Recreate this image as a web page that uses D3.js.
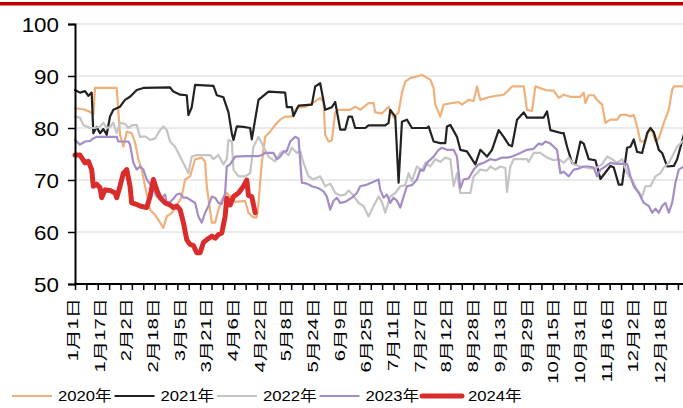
<!DOCTYPE html>
<html>
<head>
<meta charset="utf-8">
<script src="https://cdn.jsdelivr.net/npm/d3@7"></script>
<style>
  body { margin: 0; background: #fff; }
  svg { display: block; }
</style>
</head>
<body>
<svg id="chart" width="683" height="408"></svg>
<script>
// ---- data: day-of-year index (0 = Jan 1) and value ----
const labelDays = [0, 16, 32, 48, 64, 80, 96, 112, 128, 144, 160, 176, 192, 208, 224, 240, 256, 272, 288, 304, 320, 336, 352];
const labelTexts = ["1月1日", "1月17日", "2月2日", "2月18日", "3月5日", "3月21日", "4月6日", "4月22日", "5月8日", "5月24日", "6月9日", "6月25日", "7月11日", "7月27日", "8月12日", "8月28日", "9月13日", "9月29日", "10月15日", "10月31日", "11月16日", "12月2日", "12月18日"];
const yTickValues = [50, 60, 70, 80, 90, 100];
const seriesNames = ["2020年", "2021年", "2022年", "2023年", "2024年"];

const days2020 = [0,5,9,11,12,25,27,29,31,34,36,38,40,42,45,48,51,53,55,58,61,64,66,69,72,76,78,79,82,84,86,88,91,96,102,104,107,109,110,112,114,117,120,123,126,130,133,138,144,147,149,150,152,154,156,158,165,168,171,176,179,180,184,188,191,194,196,198,201,208,213,215,216,219,221,226,230,232,236,239,241,243,249,253,257,260,262,269,271,274,276,282,287,290,293,297,303,305,306,308,311,313,316,318,321,325,327,330,333,335,337,339,342,344,346,348,350,353,356,358,359,365];
const vals2020 = [83.8,83.6,83.1,82.6,87.7,87.7,78.7,76.4,79.3,79.0,77.2,74.0,72.0,68.8,64.3,63.3,61.8,60.8,63.0,63.7,65.0,66.8,70.1,70.7,74.0,74.3,73.5,68.8,61.8,61.8,64.3,66.2,67.5,65.8,66.0,63.7,62.8,62.8,65.6,73.3,78.3,79.3,80.6,81.6,82.2,82.2,83.9,84.1,85.1,85.8,85.0,78.7,77.4,77.6,83.0,83.5,83.5,84.1,83.5,84.8,84.8,83.0,82.8,84.1,82.0,83.0,86.8,88.9,89.6,90.2,89.3,87.7,84.5,82.2,84.5,84.8,85.0,84.5,85.4,85.2,88.0,85.4,86.0,86.2,86.4,87.3,88.0,88.0,83.5,83.3,88.0,87.3,87.2,85.8,86.4,86.0,86.0,86.8,84.8,86.3,86.3,85.4,84.5,81.0,81.6,81.6,82.5,82.6,82.2,82.5,80.3,77.4,77.5,79.6,79.4,77.4,78.0,81.0,83.5,87.3,88.0,88.0];

const days2021 = [0,3,6,8,10,11,13,15,17,19,21,23,27,30,33,37,41,57,59,63,67,68,70,72,83,85,89,92,94,95,97,101,105,106,110,116,126,127,130,131,134,142,144,147,150,154,156,159,162,164,166,168,174,176,186,188,189,192,194,196,199,202,211,212,215,219,222,223,225,229,231,235,240,243,247,250,254,257,260,262,265,269,271,281,283,285,292,293,295,298,300,303,305,308,312,315,321,323,326,328,331,333,335,337,340,343,345,347,350,352,355,359,361,365];
const vals2021 = [87.3,86.8,87.1,86.2,86.8,79.0,80.2,79.0,79.8,78.7,82.2,83.5,84.1,85.4,86.0,87.3,87.7,87.8,87.0,86.4,86.3,82.5,84.0,88.3,88.1,86.3,85.9,83.0,79.0,77.7,80.3,80.2,80.0,77.8,85.4,87.0,86.8,84.0,84.0,82.3,84.3,84.5,88.0,88.6,83.5,84.0,85.0,79.7,79.7,82.2,82.2,80.0,80.0,80.5,80.5,81.0,83.5,82.2,69.5,81.2,81.6,80.0,80.0,80.3,77.4,77.1,77.1,80.3,80.6,78.3,75.8,75.5,73.0,75.8,74.5,75.8,79.6,78.3,76.8,76.5,81.6,83.0,82.0,82.0,83.2,79.6,79.0,79.0,76.4,73.3,73.0,77.4,77.0,74.0,73.8,70.2,72.7,72.4,69.1,69.1,76.2,76.4,77.8,75.4,75.2,79.0,80.0,79.2,75.8,75.2,72.6,72.7,74.0,78.7,80.3];

const days2022 = [0,3,5,9,12,15,17,19,21,23,25,27,30,32,34,37,39,42,45,48,51,53,55,57,60,63,66,68,70,73,81,83,86,89,91,92,94,95,98,102,105,107,110,113,116,120,123,125,128,130,133,135,137,140,143,147,150,153,156,159,162,164,167,170,173,176,179,182,184,186,189,192,195,198,200,202,205,208,210,213,216,219,222,225,227,229,231,237,239,241,243,247,249,252,255,258,259,261,263,271,272,275,279,283,287,290,293,296,299,303,306,310,313,316,319,322,325,328,331,334,337,340,342,345,348,351,353,356,358,361,365];
const vals2022 = [82.2,82.0,80.6,80.0,80.0,80.3,81.0,80.0,80.2,81.0,79.0,81.0,80.8,80.0,80.5,80.6,78.3,78.4,77.7,78.0,79.6,80.3,79.6,77.4,76.4,74.5,72.6,71.3,74.5,74.8,74.8,74.0,74.8,73.0,74.0,77.7,77.4,72.0,70.7,70.7,71.3,76.4,78.3,76.4,74.5,73.6,75.2,75.6,74.8,76.2,75.2,75.6,73.3,70.7,70.1,70.7,68.8,69.3,67.5,67.0,67.2,68.0,67.0,65.6,65.0,63.0,65.0,66.8,65.8,63.7,66.8,67.5,68.8,69.0,71.3,69.8,72.6,71.8,73.3,72.6,74.0,73.5,74.3,74.0,68.8,71.3,67.5,67.5,70.7,71.3,72.0,71.8,72.6,72.0,72.6,72.3,67.7,72.6,74.0,74.0,73.5,75.2,75.2,74.3,73.8,74.0,73.3,74.3,73.0,72.6,72.4,72.2,72.4,73.0,74.5,74.0,73.3,74.0,71.3,70.0,68.1,66.8,68.8,68.8,70.7,71.3,72.4,73.3,74.5,76.4,77.7];

const days2023 = [0,3,6,9,11,13,25,26,32,33,35,37,39,41,43,46,49,52,54,55,57,59,61,63,65,67,69,72,74,76,78,80,82,84,86,88,90,91,93,96,102,110,112,114,119,121,123,125,127,129,132,134,136,139,142,146,149,151,153,155,157,159,162,164,166,169,171,174,178,182,183,185,187,189,191,193,195,197,199,202,205,207,209,211,215,218,220,223,227,229,231,233,236,239,242,245,249,252,256,259,262,267,271,275,278,280,282,285,287,289,291,293,296,299,302,305,308,311,313,315,318,321,325,331,333,335,338,341,344,346,348,350,352,354,356,358,360,362,365];
const vals2023 = [77.7,76.8,77.4,77.5,78.0,78.3,78.3,77.4,77.4,76.8,73.3,72.0,72.6,72.0,70.1,68.8,66.8,66.6,67.2,65.6,65.8,66.4,67.2,67.4,66.6,66.6,66.2,65.6,63.0,61.8,63.7,65.0,66.8,66.6,65.6,65.4,67.5,72.6,73.0,74.5,74.6,74.6,74.8,75.2,75.2,74.0,74.5,75.4,75.6,77.4,78.3,78.0,69.5,69.3,68.8,68.4,67.8,66.8,64.3,66.0,66.6,65.6,65.8,66.2,66.6,67.5,68.8,69.0,69.5,70.1,68.1,66.6,67.2,65.6,66.6,66.0,64.7,66.8,68.8,69.0,70.1,72.0,71.8,73.3,74.5,75.8,76.2,75.8,75.8,74.5,68.4,70.1,70.3,72.0,73.0,73.3,74.0,73.8,74.3,74.3,74.5,75.2,75.8,76.0,77.0,76.8,77.4,77.0,76.4,75.8,71.3,71.6,70.7,72.0,72.2,72.6,72.6,72.4,70.7,72.0,72.6,73.3,73.1,73.1,70.7,68.8,67.5,65.6,65.0,63.7,64.5,63.7,65.0,65.6,63.7,65.6,69.5,72.0,72.6];

const days2024 = [0,3,6,8,10,11,13,15,16,18,21,24,25,27,29,31,33,34,37,39,43,45,47,49,51,54,57,59,61,63,65,67,69,71,73,75,77,79,82,84,86,88,90,91,93,95,98,101,103,104,106,108];
const vals2024 = [74.8,74.8,73.3,73.6,72.0,68.8,69.2,68.5,66.6,68.1,68.0,67.5,66.6,68.8,71.3,72.0,68.8,65.6,65.3,65.0,64.7,66.8,70.1,68.1,66.6,65.6,65.2,64.7,65.0,64.3,61.8,58.5,57.6,57.4,56.0,56.0,58.0,58.5,59.2,58.8,59.5,59.8,63.0,66.5,65.2,66.8,67.5,68.8,70.0,67.0,66.8,63.7];

const seriesDays = [days2020, days2021, days2022, days2023, days2024];
const seriesVals = [vals2020, vals2021, vals2022, vals2023, vals2024];
const seriesColors = ["#f0b07c", "#222222", "#c4c4c4", "#a48dc6", "#db2c2c"];
const seriesWidths = [2.2, 2.2, 2.2, 2.2, 5];

// ---- layout ----
const svg = d3.select("#chart");
const plotLeft = 75, plotTop = 24, plotBottom = 284, plotRight = 683;
const pxPerDay = 1.668;
const x = d3.scaleLinear().domain([0, 366]).range([plotLeft, plotLeft + 366 * pxPerDay]);
const y = d3.scaleLinear().domain([50, 100]).range([plotBottom, plotTop]);
const fontStack = "'Liberation Sans', Arial, 'Noto Sans CJK SC', sans-serif";

// red rule across the top
svg.append("rect").attr("x", 0).attr("y", 2).attr("width", plotRight).attr("height", 3.5).attr("fill", "#c00000");

// horizontal gridlines
svg.append("g").selectAll("line").data(yTickValues.filter(v => v > 50)).join("line")
  .attr("x1", plotLeft).attr("x2", plotRight)
  .attr("y1", d => y(d)).attr("y2", d => y(d))
  .attr("stroke", "#d6d6d6").attr("stroke-width", 1.2);

// series lines
const line = d3.line().x(d => x(d[0])).y(d => y(d[1]));
seriesDays.forEach((days, i) => {
  const pts = days.map((d, j) => [d, seriesVals[i][j]]);
  svg.append("path").datum(pts)
    .attr("d", line)
    .attr("fill", "none")
    .attr("stroke", seriesColors[i])
    .attr("stroke-width", seriesWidths[i])
    .attr("stroke-linejoin", "round")
    .attr("stroke-linecap", "round");
});

// y axis
const yAxis = d3.axisLeft(y).tickValues(yTickValues).tickSize(7);
const gy = svg.append("g").attr("transform", `translate(${plotLeft},0)`).call(yAxis);
gy.select(".domain").attr("stroke", "#000").attr("stroke-width", 2);
gy.selectAll(".tick line").attr("stroke", "#000").attr("stroke-width", 1.5);
gy.selectAll(".tick text")
  .attr("x", 0).attr("dy", "0.36em")
  .attr("transform", "translate(-16,0) scale(1.12,1)")
  .attr("font-family", fontStack).attr("font-size", 20).attr("fill", "#000");

// x axis: minor ticks and rotated date labels
const tickStep = 6.82;
const xTickVals = d3.range(0, 366, tickStep);
const xAxis = d3.axisBottom(x).tickValues(xTickVals).tickSize(6).tickFormat("");
const gx = svg.append("g").attr("transform", `translate(0,${plotBottom})`).call(xAxis);
gx.select(".domain").attr("stroke", "#000").attr("stroke-width", 2).attr("d", `M${plotLeft},0H${plotRight}`);
gx.selectAll(".tick line").attr("stroke", "#000").attr("stroke-width", 1.5);

svg.append("g").selectAll("text").data(labelDays).join("text")
  .attr("transform", d => `translate(${x(d) - 2},${plotBottom + 14}) rotate(-90) scale(1.45,1)`)
  .attr("text-anchor", "end")
  .attr("dominant-baseline", "central")
  .attr("font-family", fontStack)
  .attr("font-size", 14)
  .attr("fill", "#000")
  .text((d, i) => labelTexts[i]);

// legend
const legend = svg.append("g").attr("transform", "translate(12,396)");
seriesNames.forEach((name, i) => {
  const g = legend.append("g").attr("transform", `translate(${i * 102.5},0)`);
  g.append("line").attr("x1", 0).attr("x2", 40).attr("y1", 0).attr("y2", 0)
    .attr("stroke", seriesColors[i]).attr("stroke-width", seriesWidths[i])
    .attr("stroke-linecap", i === 4 ? "round" : "butt");
  g.append("text")
    .attr("transform", "translate(46,0) scale(1.15,1)")
    .attr("dominant-baseline", "central")
    .attr("font-family", fontStack).attr("font-size", 14.5).attr("fill", "#000")
    .text(name);
});
</script>
</body>
</html>
